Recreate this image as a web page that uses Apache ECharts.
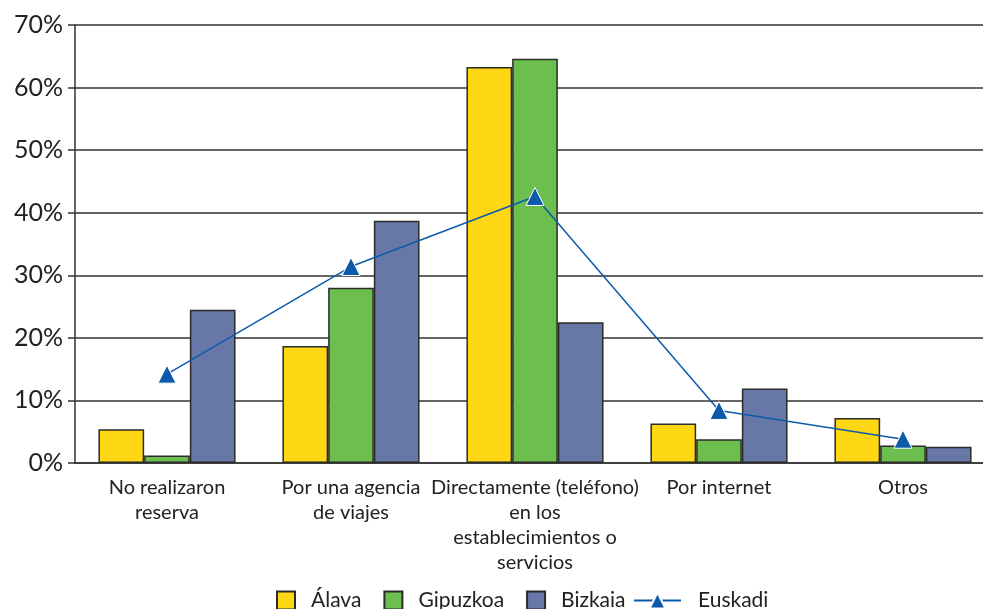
<!DOCTYPE html>
<html>
<head>
<meta charset="utf-8">
<script src="https://cdn.jsdelivr.net/npm/echarts@6/dist/echarts.min.js"></script>
<style>
  html, body { margin: 0; padding: 0; background: #fff; }
  #chart { width: 983px; height: 609px; }
</style>
</head>
<body>
<div id="chart"></div>
<script>
// categorías del eje X
var categorias = [
  'No realizaron\nreserva',
  'Por una agencia\nde viajes',
  'Directamente (teléfono)\nen los\nestablecimientos o\nservicios',
  'Por internet',
  'Otros'
];
// valores en %
var alava    = [5.4, 18.7, 63.3, 6.3, 7.2];
var gipuzkoa = [1.2, 28.0, 64.6, 3.8, 2.8];
var bizkaia  = [24.5, 38.7, 22.5, 11.9, 2.6];
var euskadi  = [14.2, 31.4, 42.6, 8.4, 3.8];

var fuente = 'Lato, "Open Sans", sans-serif';

var chart = echarts.init(document.getElementById('chart'));

function barra(nombre, datos, color) {
  return {
    name: nombre,
    type: 'bar',
    data: datos,
    barGap: 0,
    barCategoryGap: '25.5%',
    itemStyle: { color: color, borderColor: '#2b2b2b', borderWidth: 1.5 }
  };
}

var textoLeyenda = { fontFamily: fuente, fontSize: 21, color: '#222' };

chart.setOption({
  animation: false,
  textStyle: { fontFamily: fuente, color: '#222' },
  grid: { left: 75, width: 920, top: 25, bottom: 146, outerBoundsMode: 'none' },
  legend: [
    {
      // barras
      top: 590,
      left: 276,
      padding: 0,
      itemWidth: 18,
      itemHeight: 18,
      itemGap: 22,
      textStyle: Object.assign({ padding: [0, 0, 0, 11] }, textoLeyenda),
      data: [
        { name: 'Álava', icon: 'rect' },
        { name: 'Gipuzkoa', icon: 'rect' },
        { name: 'Bizkaia', icon: 'rect' }
      ]
    },
    {
      // línea
      top: 590,
      left: 633,
      padding: 0,
      itemWidth: 47,
      itemHeight: 20,
      textStyle: Object.assign({ padding: [0, 0, 0, 12] }, textoLeyenda),
      data: ['Euskadi']
    }
  ],
  xAxis: {
    type: 'category',
    data: categorias,
    axisLine: { lineStyle: { color: '#333', width: 1.5 } },
    axisTick: { show: false },
    axisLabel: {
      interval: 0,
      fontFamily: fuente,
      fontSize: 20,
      lineHeight: 25,
      color: '#222',
      margin: 12
    }
  },
  yAxis: {
    type: 'value',
    min: 0,
    max: 70,
    interval: 10,
    axisLine: { show: true, lineStyle: { color: '#333', width: 1.5 } },
    axisTick: { show: true, length: 7, lineStyle: { color: '#333', width: 1.5 } },
    axisLabel: {
      formatter: '{value}%',
      fontFamily: fuente,
      fontSize: 25,
      color: '#222',
      margin: 12
    },
    splitLine: { lineStyle: { color: '#333', width: 1.5 } }
  },
  series: [
    barra('Álava', alava, '#FDD614'),
    barra('Gipuzkoa', gipuzkoa, '#6CBE4E'),
    barra('Bizkaia', bizkaia, '#6677A8'),
    {
      name: 'Euskadi',
      type: 'line',
      data: euskadi,
      symbol: 'triangle',
      symbolSize: 18,
      z: 5,
      lineStyle: { color: '#0B5BAA', width: 1.5 },
      itemStyle: { color: '#0B5BAA', borderColor: '#fff', borderWidth: 1 }
    }
  ]
});
</script>
</body>
</html>
